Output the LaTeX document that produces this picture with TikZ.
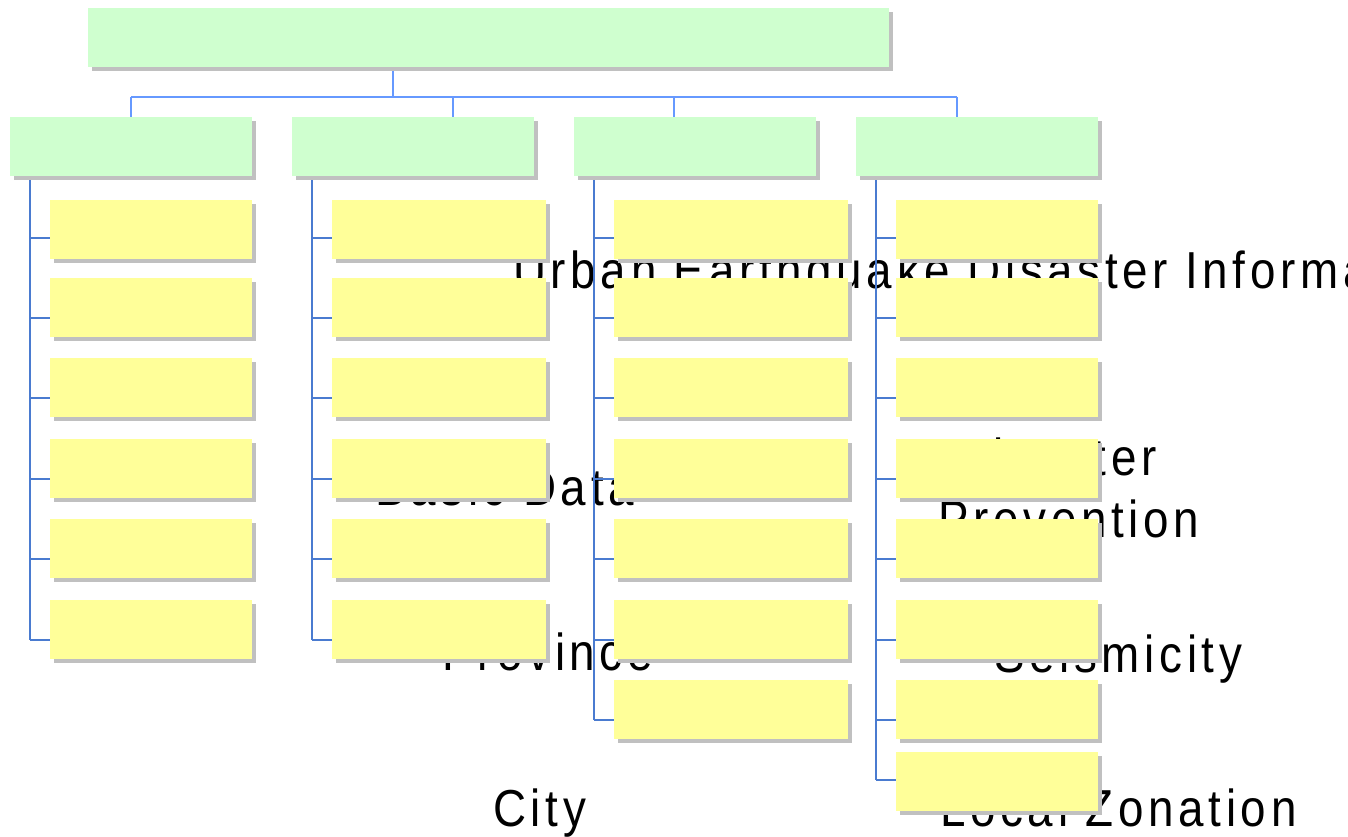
\documentclass[tikz,border=0pt]{standalone}
\usepackage{fontspec}
\setmainfont{Liberation Sans}
\newfontfamily\lblfont[FakeStretch=0.88, LetterSpace=9]{Liberation Sans}
\usetikzlibrary{shadows}

\definecolor{boxgreen}{RGB}{207,255,207}
\definecolor{boxyellow}{RGB}{255,255,153}
\definecolor{shadowgray}{RGB}{192,192,192}
\definecolor{busblue}{RGB}{102,153,255}
\definecolor{colblue}{RGB}{74,123,208}

\tikzset{
  boxbase/.style={draw=none, inner sep=0pt, outer sep=0pt, anchor=north west,
    minimum height=59pt,
    drop shadow={shadow xshift=4pt, shadow yshift=-4pt, fill=shadowgray, opacity=1}},
  topbox/.style={boxbase, fill=boxgreen, minimum width=801pt},
  catbox/.style={boxbase, fill=boxgreen, minimum width=242pt},
  itembox/.style={boxbase, fill=boxyellow, minimum width=#1},
  busline/.style={draw=busblue, line width=2.8pt},
  colline/.style={draw=colblue, line width=1.4pt},
  lbl/.style={anchor=base west, inner sep=0pt, font=\lblfont\fontsize{52}{62}\selectfont, text=black}
}

\begin{document}
\begin{tikzpicture}[x=1pt, y=-1pt]
  \useasboundingbox (0,0) rectangle (1348,836);

  % labels, lying beneath the boxes
  \node[lbl] (lurban) at (513,288) {Urban Earthquake Disaster Information};
  \node[lbl] (lbasic) at (375,505) {Basic Data};
  \node[lbl] (ldis)   at (956,475) {Disaster};
  \node[lbl] (lprev)  at (938,537) {Prevention};
  \node[lbl] (lprov)  at (442,670) {Province};
  \node[lbl] (lseis)  at (994,672) {Seismicity};
  \node[lbl] (lcity)  at (493,826) {City};
  \node[lbl] (lzone)  at (940,826) {Local Zonation};

  % bus from the top box to the four category boxes
  \coordinate (topdrop) at (393,67);
  \coordinate (busmid)  at (393,97);
  \coordinate (bus1) at (131,97);
  \coordinate (bus2) at (453,97);
  \coordinate (bus3) at (674,97);
  \coordinate (bus4) at (957,97);
  \draw[busline] (topdrop) -- (busmid);
  \draw[busline] (bus1) -- (bus4);
  \foreach \i in {1,2,3,4} \draw[busline] (bus\i) -- ++(0,20);

  % column trunks and ticks
  \def\tickys{238,318,398,479,559,640,720,780}
  \foreach \c/\x/\n in {1/30/6, 2/312/6, 3/594/7, 4/876/8} {
    \coordinate (s\c) at (\x,176);
    \foreach \ty [count=\r] in \tickys {
      \ifnum\r>\n\else
        \coordinate (t\c\r) at (\x,\ty);
        \draw[colline] (t\c\r) -- ++(20,0);
      \fi
    }
    \draw[colline] (s\c) -- (t\c\n);
  }

  % top box and category boxes
  \node[topbox] (top) at (88,8) {};
  \node[catbox] (cat1) at (10,117) {};
  \node[catbox] (cat2) at (292,117) {};
  \node[catbox] (cat3) at (574,117) {};
  \node[catbox] (cat4) at (856,117) {};

  % item boxes
  \def\itemys{200,278,358,439,519,600,680,752}
  \foreach \c/\x/\w/\n in {1/50/202pt/6, 2/332/214pt/6, 3/614/234pt/7, 4/896/202pt/8} {
    \foreach \iy [count=\r] in \itemys {
      \ifnum\r>\n\else
        \node[itembox=\w] (b\c\r) at (\x,\iy) {};
      \fi
    }
  }
\end{tikzpicture}
\end{document}
